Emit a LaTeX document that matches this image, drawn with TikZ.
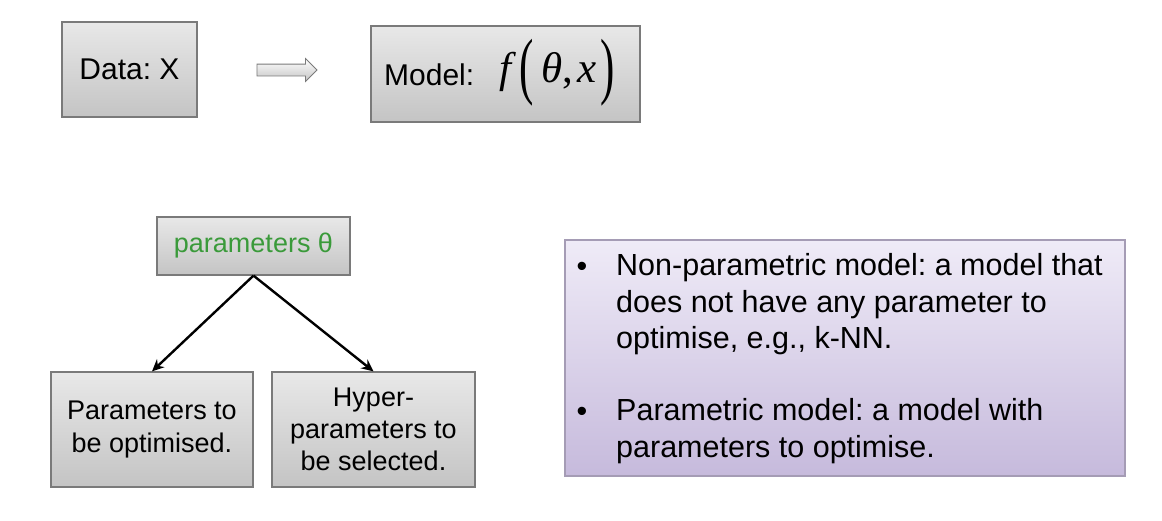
\documentclass[tikz,border=0pt]{standalone}
\usepackage{fontspec}
\setmainfont{Liberation Sans}
\newfontfamily\formulafont{Liberation Serif}
\usepackage{graphicx}
\usetikzlibrary{arrows.meta,shapes.arrows}
\frenchspacing

\definecolor{boxtop}{HTML}{E8E8E8}
\definecolor{boxbottom}{HTML}{C4C4C4}
\definecolor{boxline}{HTML}{7A7A7A}
\definecolor{notetop}{HTML}{EFEBF7}
\definecolor{notebottom}{HTML}{C6BADC}
\definecolor{noteline}{HTML}{A59CB5}
\definecolor{paramgreen}{HTML}{3A9A3A}

\newcommand{\tallparen}[1]{\raisebox{-8.6pt}{\scalebox{1}[1.72]{\upshape #1}}}

\begin{document}
\begin{tikzpicture}[x=1pt,y=-1pt,
  graybox/.style={draw=boxline, line width=1.2pt, top color=boxtop,
    bottom color=boxbottom, inner sep=0pt},
  notebox/.style={draw=noteline, line width=1.2pt, top color=notetop,
    bottom color=notebottom, inner sep=0pt},
  plain/.style={inner sep=0pt, anchor=base west},
  bigtext/.style={font=\fontsize{30}{36}\selectfont},
  boxtext/.style={font=\fontsize{27}{33.3}\selectfont},
  notetext/.style={font=\fontsize{30.5}{36.3}\selectfont},
  link/.style={line width=2.4pt, -{Stealth[length=12pt,width=11pt]}}
]
\useasboundingbox (0,0) rectangle (1162,520);

% top row: data flows into the model
\node[graybox, bigtext, minimum width=135pt, minimum height=95pt]
  (data) at (129.5,69.5) {Data: X};
\node[single arrow, draw=boxline, line width=0.8pt, top color=white,
  bottom color=boxbottom, minimum height=60pt, inner xsep=0pt,
  inner ysep=5.5pt, single arrow head extend=5.5pt]
  (flow) at (284,70) {};
\node[graybox, minimum width=269pt, minimum height=96pt]
  (model) at (505.5,74) {};
\node[plain, bigtext] (modelname) at (384,85.5) {Model:};
\node[plain, font=\formulafont\fontsize{43}{43}\selectfont]
  (formula) at (499,82)
  {\itshape f\hspace{8pt}\tallparen{(}\hspace{8pt}θ\upshape,\hspace{4pt}\itshape x\hspace{4pt}\tallparen{)}};

% parameter tree
\node[graybox, boxtext, text=paramgreen, minimum width=193pt,
  minimum height=58pt] (params) at (253.5,246) {parameters θ};
\node[graybox, boxtext, align=center, minimum width=202pt,
  minimum height=115pt] (tuned) at (152,429.5)
  {Parameters to\\be optimised.};
\node[graybox, boxtext, align=center, minimum width=203pt,
  minimum height=115pt, font=\fontsize{27}{32}\selectfont] (hyper) at (373.5,429.5)
  {Hyper-\\parameters to\\be selected.};
\draw[link] (params.south) -- (tuned.north);
\draw[link] (params.south) -- (hyper.north);

% note on model types
\node[notebox, minimum width=560pt, minimum height=236pt]
  (note) at (845,358) {};
\node[notetext, inner sep=0pt, anchor=base] (dot1) at (582,276) {•};
\node[plain, notetext, align=left] (nonparam) at (616,348.3)
  {Non-parametric model: a model that\\does not have any parameter to\\optimise, e.g., k-NN.};
\node[notetext, inner sep=0pt, anchor=base] (dot2) at (582,421.7) {•};
\node[plain, notetext, align=left] (param) at (616,457)
  {Parametric model: a model with\\parameters to optimise.};
\end{tikzpicture}
\end{document}
